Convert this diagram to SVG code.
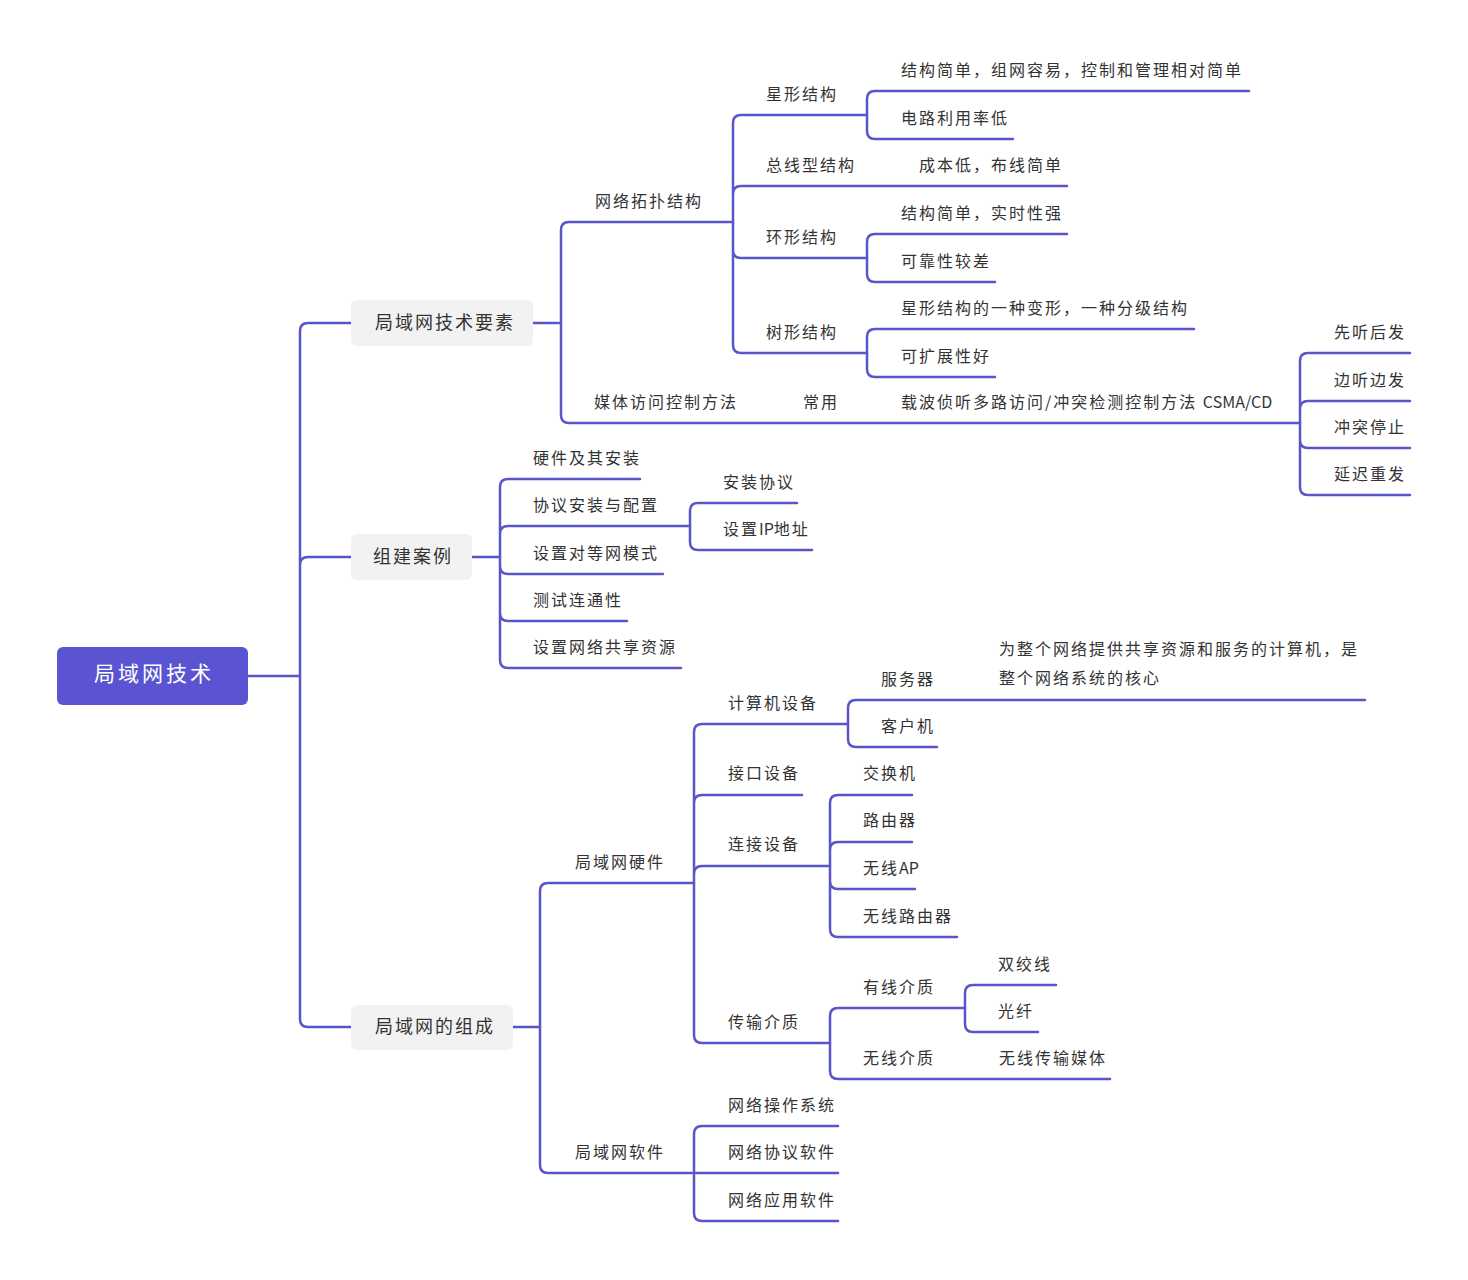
<svg xmlns="http://www.w3.org/2000/svg" width="1468" height="1280" viewBox="0 0 1468 1280">
<style>
.c{fill:none;stroke:#5a55c8;stroke-width:2.5;stroke-linecap:round}
.t{font-family:"Noto Sans CJK SC","Liberation Sans",sans-serif;font-size:16px;fill:#333;letter-spacing:2px}
.lat{letter-spacing:0px}
.l1{font-family:"Noto Sans CJK SC","Liberation Sans",sans-serif;font-size:18px;fill:#333;letter-spacing:2px}
.rt{font-family:"Noto Sans CJK SC","Liberation Sans",sans-serif;font-size:21px;fill:#fff;letter-spacing:3px}
.box{fill:#f2f2f2}
</style>
<rect width="1468" height="1280" fill="#fff"/>
<g id="connectors">
<path class="c" d="M248 676 H300 M300 676 V331 Q300 323 308 323 H351 M300 676 V565 Q300 557 308 557 H351 M300 676 V1019 Q300 1027 308 1027 H351"/>
<path class="c" d="M533 323 H561 M561 323 V230 Q561 222 569 222 H733 M561 323 V415 Q561 423 569 423 H1300"/>
<path class="c" d="M733 222 V123 Q733 115 741 115 H867 M733 222 V194 Q733 186 741 186 H1067 M733 222 V250 Q733 258 741 258 H867 M733 222 V345 Q733 353 741 353 H867"/>
<path class="c" d="M867 115 V99 Q867 91 875 91 H1249 M867 115 V131 Q867 139 875 139 H1013"/>
<path class="c" d="M867 258 V242 Q867 234 875 234 H1067 M867 258 V274 Q867 282 875 282 H995"/>
<path class="c" d="M867 353 V337 Q867 329 875 329 H1194 M867 353 V369 Q867 377 875 377 H995"/>
<path class="c" d="M1300 423 V361 Q1300 353 1308 353 H1410 M1300 423 V409 Q1300 401 1308 401 H1410 M1300 423 V440 Q1300 448 1308 448 H1410 M1300 423 V487 Q1300 495 1308 495 H1410"/>
<path class="c" d="M472 557 H500 M500 557 V487 Q500 479 508 479 H640 M500 557 V534 Q500 526 508 526 H690 M500 557 V566 Q500 574 508 574 H663 M500 557 V613 Q500 621 508 621 H627 M500 557 V660 Q500 668 508 668 H681"/>
<path class="c" d="M690 526 V511 Q690 503 698 503 H797 M690 526 V542 Q690 550 698 550 H812"/>
<path class="c" d="M513 1027 H540 M540 1027 V891 Q540 883 548 883 H694 M540 1027 V1165 Q540 1173 548 1173 H694"/>
<path class="c" d="M694 883 V732 Q694 724 702 724 H848 M694 883 V803 Q694 795 702 795 H802 M694 883 V874 Q694 866 702 866 H830 M694 883 V1035 Q694 1043 702 1043 H830"/>
<path class="c" d="M848 724 V708 Q848 700 856 700 H1365 M848 724 V739 Q848 747 856 747 H937"/>
<path class="c" d="M830 866 V803 Q830 795 838 795 H912 M830 866 V850 Q830 842 838 842 H912 M830 866 V881 Q830 889 838 889 H915 M830 866 V929 Q830 937 838 937 H957"/>
<path class="c" d="M830 1043 V1016 Q830 1008 838 1008 H965 M830 1043 V1071 Q830 1079 838 1079 H1110"/>
<path class="c" d="M965 1008 V993 Q965 985 973 985 H1056 M965 1008 V1024 Q965 1032 973 1032 H1038"/>
<path class="c" d="M694 1173 V1134 Q694 1126 702 1126 H838 M694 1173 H838 M694 1173 V1213 Q694 1221 702 1221 H838"/>
</g>
<g id="root"><rect x="57" y="647" width="191" height="58" rx="6" fill="#5a54d2"/><text class="rt" x="154" y="681" text-anchor="middle">局域网技术</text></g>
<g id="n-yaosu"><rect class="box" x="351" y="300" width="182" height="46" rx="6"/><text class="l1" x="375" y="329">局域网技术要素</text></g>
<g id="n-anli"><rect class="box" x="351" y="534" width="121" height="46" rx="6"/><text class="l1" x="373" y="563">组建案例</text></g>
<g id="n-zucheng"><rect class="box" x="351" y="1005" width="162" height="45" rx="6"/><text class="l1" x="375" y="1033">局域网的组成</text></g>
<g id="n-tuopu"><text class="t" x="595" y="207">网络拓扑结构</text></g>
<g id="n-xing"><text class="t" x="766" y="100">星形结构</text></g>
<g id="n-xing1"><text class="t" x="901" y="76">结构简单，组网容易，控制和管理相对简单</text></g>
<g id="n-xing2"><text class="t" x="901" y="124">电路利用率低</text></g>
<g id="n-zongxian"><text class="t" x="766" y="171">总线型结构</text></g>
<g id="n-zongxian1"><text class="t" x="919" y="171">成本低，布线简单</text></g>
<g id="n-huan"><text class="t" x="766" y="243">环形结构</text></g>
<g id="n-huan1"><text class="t" x="901" y="219">结构简单，实时性强</text></g>
<g id="n-huan2"><text class="t" x="901" y="267">可靠性较差</text></g>
<g id="n-shu"><text class="t" x="766" y="338">树形结构</text></g>
<g id="n-shu1"><text class="t" x="901" y="314">星形结构的一种变形，一种分级结构</text></g>
<g id="n-shu2"><text class="t" x="901" y="362">可扩展性好</text></g>
<g id="n-meiti"><text class="t" x="594" y="408">媒体访问控制方法</text></g>
<g id="n-changyong"><text class="t" x="803" y="408">常用</text></g>
<g id="n-csma"><text class="t" x="901" y="408">载波侦听多路访问/冲突检测控制方法 <tspan class="lat">CSMA/CD</tspan></text></g>
<g id="n-c1"><text class="t" x="1334" y="338">先听后发</text></g>
<g id="n-c2"><text class="t" x="1334" y="386">边听边发</text></g>
<g id="n-c3"><text class="t" x="1334" y="433">冲突停止</text></g>
<g id="n-c4"><text class="t" x="1334" y="480">延迟重发</text></g>
<g id="n-a1"><text class="t" x="533" y="464">硬件及其安装</text></g>
<g id="n-a2"><text class="t" x="533" y="511">协议安装与配置</text></g>
<g id="n-a21"><text class="t" x="723" y="488">安装协议</text></g>
<g id="n-a22"><text class="t" x="723" y="535">设置<tspan class="lat">IP</tspan>地址</text></g>
<g id="n-a3"><text class="t" x="533" y="559">设置对等网模式</text></g>
<g id="n-a4"><text class="t" x="533" y="606">测试连通性</text></g>
<g id="n-a5"><text class="t" x="533" y="653">设置网络共享资源</text></g>
<g id="n-yingjian"><text class="t" x="575" y="868">局域网硬件</text></g>
<g id="n-jisuanji"><text class="t" x="728" y="709">计算机设备</text></g>
<g id="n-fuwuqi"><text class="t" x="881" y="685">服务器</text></g>
<g id="n-fuwuqi1"><text class="t" x="999" y="655">为整个网络提供共享资源和服务的计算机，是<tspan x="999" y="684">整个网络系统的核心</tspan></text></g>
<g id="n-kehuji"><text class="t" x="881" y="732">客户机</text></g>
<g id="n-jiekou"><text class="t" x="728" y="779">接口设备</text></g>
<g id="n-lianjie"><text class="t" x="728" y="850">连接设备</text></g>
<g id="n-jiaohuanji"><text class="t" x="863" y="779">交换机</text></g>
<g id="n-luyouqi"><text class="t" x="863" y="826">路由器</text></g>
<g id="n-ap"><text class="t" x="863" y="874">无线<tspan class="lat">AP</tspan></text></g>
<g id="n-wxly"><text class="t" x="863" y="922">无线路由器</text></g>
<g id="n-chuanshu"><text class="t" x="728" y="1028">传输介质</text></g>
<g id="n-youxian"><text class="t" x="863" y="993">有线介质</text></g>
<g id="n-shuangjiao"><text class="t" x="998" y="970">双绞线</text></g>
<g id="n-guangxian"><text class="t" x="998" y="1017">光纤</text></g>
<g id="n-wuxian"><text class="t" x="863" y="1064">无线介质</text></g>
<g id="n-wuxian1"><text class="t" x="999" y="1064">无线传输媒体</text></g>
<g id="n-ruanjian"><text class="t" x="575" y="1158">局域网软件</text></g>
<g id="n-r1"><text class="t" x="728" y="1111">网络操作系统</text></g>
<g id="n-r2"><text class="t" x="728" y="1158">网络协议软件</text></g>
<g id="n-r3"><text class="t" x="728" y="1206">网络应用软件</text></g>
</svg>
